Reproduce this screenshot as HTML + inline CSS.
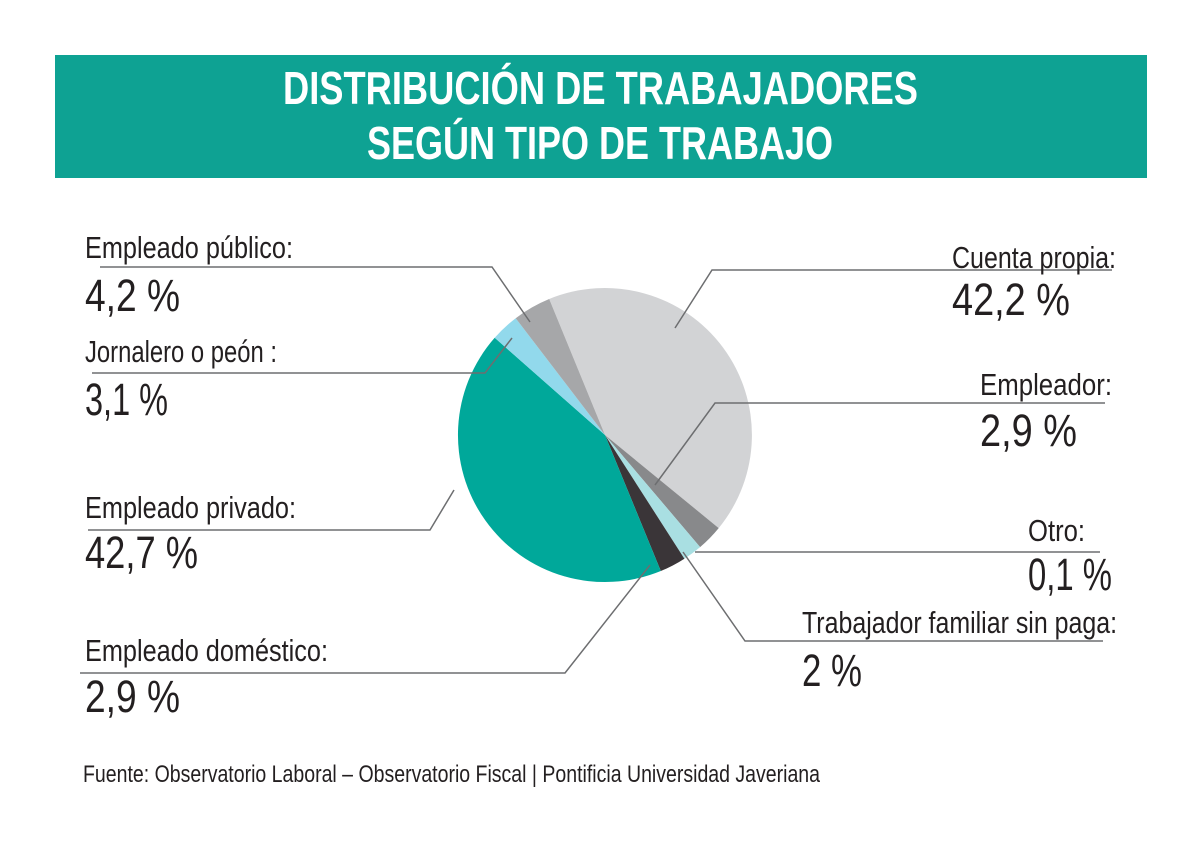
<!DOCTYPE html>
<html><head><meta charset="utf-8"><style>
html,body{margin:0;padding:0;background:#fff;}
svg{display:block;}
text{font-family:"Liberation Sans",sans-serif;fill:#231f20;}
.l{font-size:31px;}
.n{font-size:45px;}
.t{font-size:46px;font-weight:bold;fill:#fff;}
</style></head><body>
<svg width="1200" height="849" viewBox="0 0 1200 849" xmlns="http://www.w3.org/2000/svg">
<rect x="0" y="0" width="1200" height="849" fill="#fff"/>
<rect x="55" y="55" width="1092" height="123" fill="#0ea293"/>
<text class="t" x="283" y="104" textLength="635" lengthAdjust="spacingAndGlyphs">DISTRIBUCIÓN DE TRABAJADORES</text>
<text class="t" x="367" y="159" textLength="466" lengthAdjust="spacingAndGlyphs">SEGÚN  TIPO DE TRABAJO</text>

<g stroke="none">
<path d="M605,435 L549.2,299 A147,147 0 0 1 718.7,528.1 Z" fill="#d2d3d5"/>
<path d="M605,435 L718.7,528.1 A147,147 0 0 1 700.1,547.1 Z" fill="#88898b"/>
<path d="M605,435 L700.1,547.1 A147,147 0 0 1 684.4,558.7 Z" fill="#a9dfe2"/>
<path d="M605,435 L684.4,558.7 A147,147 0 0 1 660.8,571 Z" fill="#3a3538"/>
<path d="M605,435 L660.8,571 A147,147 0 0 1 494.7,337.8 Z" fill="#00a89a"/>
<path d="M605,435 L494.7,337.8 A147,147 0 0 1 515.7,318.2 Z" fill="#92d9ec"/>
<path d="M605,435 L515.7,318.2 A147,147 0 0 1 549.2,299 Z" fill="#a6a7a9"/>
</g>

<g stroke="#6d6e70" stroke-width="1.5" fill="none">
<polyline points="100,267 492,267 530,322"/>
<polyline points="92,373 485,373 512,338"/>
<polyline points="88,530 430,530 454,490"/>
<polyline points="80,673 565,673 650,565"/>
<polyline points="1112,270 712,270 675,328"/>
<polyline points="1105,403 715,403 655,485"/>
<polyline points="1100,552 695,552"/>
<polyline points="1103,641 745,641 683,552"/>
</g>

<text class="l" x="85" y="258" textLength="208" lengthAdjust="spacingAndGlyphs">Empleado público:</text>
<text class="n" x="85" y="311" textLength="95" lengthAdjust="spacingAndGlyphs">4,2 %</text>
<text class="l" x="85" y="362" textLength="192" lengthAdjust="spacingAndGlyphs">Jornalero o peón :</text>
<text class="n" x="85" y="415" textLength="83" lengthAdjust="spacingAndGlyphs">3,1 %</text>
<text class="l" x="85" y="518" textLength="211" lengthAdjust="spacingAndGlyphs">Empleado privado:</text>
<text class="n" x="85" y="568" textLength="113" lengthAdjust="spacingAndGlyphs">42,7 %</text>
<text class="l" x="85" y="661" textLength="243" lengthAdjust="spacingAndGlyphs">Empleado doméstico:</text>
<text class="n" x="85" y="712" textLength="95" lengthAdjust="spacingAndGlyphs">2,9 %</text>

<text class="l" x="952" y="268" textLength="164" lengthAdjust="spacingAndGlyphs">Cuenta propia:</text>
<text class="n" x="952" y="315" textLength="118" lengthAdjust="spacingAndGlyphs">42,2 %</text>
<text class="l" x="980" y="395" textLength="132" lengthAdjust="spacingAndGlyphs">Empleador:</text>
<text class="n" x="980" y="446" textLength="97" lengthAdjust="spacingAndGlyphs">2,9 %</text>
<text class="l" x="1028" y="541" textLength="57" lengthAdjust="spacingAndGlyphs">Otro:</text>
<text class="n" x="1028" y="590" textLength="84" lengthAdjust="spacingAndGlyphs">0,1 %</text>
<text class="l" x="802" y="633" textLength="315" lengthAdjust="spacingAndGlyphs">Trabajador familiar sin paga:</text>
<text class="n" x="802" y="686" textLength="60" lengthAdjust="spacingAndGlyphs">2 %</text>

<text x="83" y="782" font-size="24" fill="#3b3b3b" textLength="737" lengthAdjust="spacingAndGlyphs">Fuente: Observatorio Laboral – Observatorio Fiscal | Pontificia Universidad Javeriana</text>
</svg>
</body></html>
